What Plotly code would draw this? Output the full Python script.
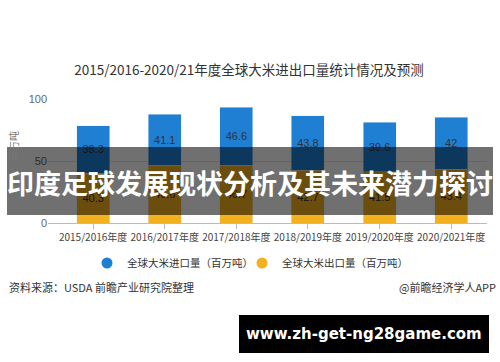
import plotly.graph_objects as go

categories = ["2015/2016年度", "2016/2017年度", "2017/2018年度", "2018/2019年度", "2019/2020年度", "2020/2021年度"]
imports = [38.3, 41.1, 46.6, 43.8, 39.6, 42]
exports = [40.3, 46.6, 46.7, 42.7, 41.5, 43.4]
y_ticks = [0, 50, 100]

BLUE = "#1f7fd3"
ORANGE = "#f3b120"
CJK = "Noto Sans CJK SC"

fig = go.Figure()
fig.add_trace(go.Bar(x=categories, y=exports, name="全球大米出口量（百万吨）", marker_color=ORANGE,
                     width=0.46, text=[f"{v:g}" for v in exports], textposition="inside",
                     insidetextanchor="middle", textfont=dict(size=11, color="#333", family="Liberation Sans"),
                     showlegend=False))
fig.add_trace(go.Bar(x=categories, y=imports, name="全球大米进口量（百万吨）", marker_color=BLUE,
                     width=0.46, text=[f"{v:g}" for v in imports], textposition="inside",
                     insidetextanchor="middle", textfont=dict(size=11, color="#333", family="Liberation Sans"),
                     showlegend=False))
# legend entries with round markers
fig.add_trace(go.Scatter(x=[None], y=[None], mode="markers", name="全球大米进口量（百万吨）",
                         marker=dict(color=BLUE, size=11, symbol="circle"), legend="legend"))
fig.add_trace(go.Scatter(x=[None], y=[None], mode="markers", name="全球大米出口量（百万吨）",
                         marker=dict(color=ORANGE, size=11, symbol="circle"), legend="legend2"))

legend_common = dict(orientation="h", xanchor="left", y=1 - 263 / 362, yanchor="middle",
                     yref="container", font=dict(size=10.5, color="#333", family=CJK),
                     bgcolor="rgba(0,0,0,0)")

fig.update_layout(
    width=500, height=362,
    margin=dict(l=48, r=13, t=99, b=139, autoexpand=False),
    paper_bgcolor="white", plot_bgcolor="white",
    barmode="stack",
    font=dict(family=CJK, color="#555"),
    title=dict(text="2015/2016-2020/21年度全球大米进出口量统计情况及预测", x=(249 / 500), xanchor="center",
               y=1 - 70 / 362, yanchor="middle", font=dict(size=13.5, color="#333", family=CJK),
               automargin=False),
    xaxis=dict(type="category", range=[-0.63, 5.5], showline=True, linecolor="#bbb",
               ticks="outside", ticklen=5, tickcolor="#bbb", tickangle=0, automargin=False,
               tickfont=dict(size=10, color="#444", family=CJK), showgrid=False),
    yaxis=dict(range=[0, 100], tickvals=y_ticks, showgrid=True, gridcolor="#e3e3e3", automargin=False,
               tickfont=dict(size=11, color="#666", family="Liberation Sans"),
               title=dict(text="单位：百万吨", font=dict(size=10, color="#777", family=CJK), standoff=8),
               zeroline=False, fixedrange=True),
    showlegend=True,
    legend=dict(x=(87 - 48) / 439, **legend_common),
    legend2=dict(x=(242 - 48) / 439, **legend_common),
    bargap=0.54,
)

# source notes
fig.add_annotation(text="资料来源：USDA 前瞻产业研究院整理", xref="paper", yref="paper",
                   x=-41 / 439, y=-(287 - 223) / 124, xanchor="left", yanchor="middle",
                   showarrow=False, font=dict(size=11, color="#333", family=CJK))
fig.add_annotation(text="@前瞻经济学人APP", xref="paper", yref="paper",
                   x=(498 - 48) / 439, y=-(287 - 223) / 124, xanchor="right", yanchor="middle",
                   showarrow=False, font=dict(size=11, color="#333", family=CJK))

# dark overlay band with headline
fig.add_shape(type="rect", xref="paper", yref="paper", layer="above",
              x0=(7 - 48) / 439, x1=(493 - 48) / 439, y0=(223 - 215) / 124, y1=(223 - 147) / 124,
              fillcolor="rgba(0,0,0,0.56)", line=dict(width=0))
fig.add_annotation(text="<b>印度足球发展现状分析及其未来潜力探讨</b>", xref="paper", yref="paper",
                   x=(250 - 48) / 439, y=(223 - 182) / 124, xanchor="center", yanchor="middle",
                   showarrow=False, font=dict(size=27, color="white", family=CJK))

# black url box
fig.add_shape(type="rect", xref="paper", yref="paper", layer="above",
              x0=(239 - 48) / 439, x1=(489 - 48) / 439, y0=-(353 - 223) / 124, y1=-(315 - 223) / 124,
              fillcolor="black", line=dict(width=0))
fig.add_annotation(text="<b>www.zh-get-ng28game.com</b>", xref="paper", yref="paper",
                   x=(364 - 48) / 439, y=-(334 - 223) / 124, xanchor="center", yanchor="middle",
                   showarrow=False, font=dict(size=15, color="white", family="DejaVu Sans"))

fig.write_html("out.html", config={"displayModeBar": False},
               post_script="document.body.style.margin='0px';document.body.style.overflow='hidden';")
